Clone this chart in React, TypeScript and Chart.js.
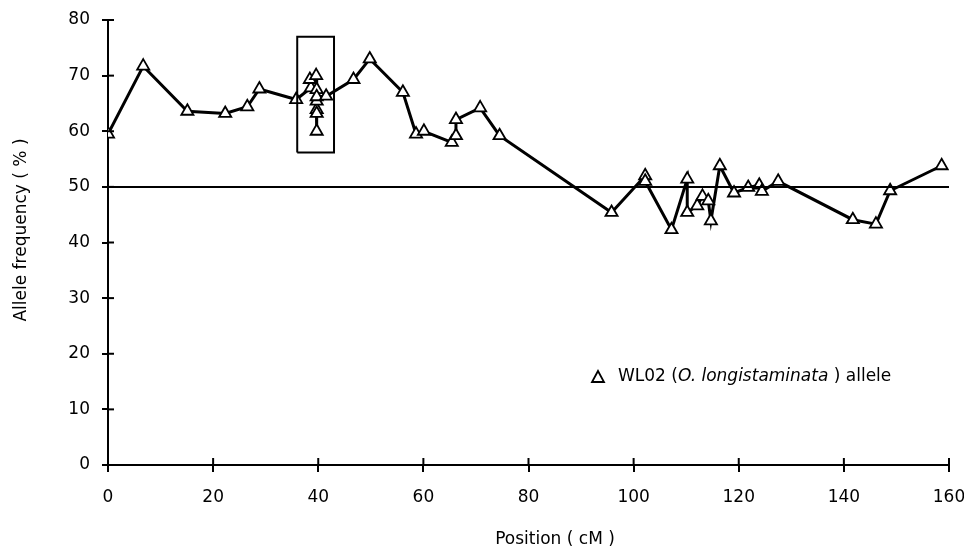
import React, { useEffect, useRef } from "react";
import { Chart, registerables } from "chart.js";

Chart.register(...registerables);

// Marker positions (cM) and allele frequencies (%) in drawing order
const positions = [
  0, 6.7, 15.1, 22.3, 26.5, 28.8, 35.8, 38.6, 38.4, 39.6, 39.7, 39.7, 39.7, 39.7, 39.7, 39.7,
  41.5, 46.7, 49.8, 56.1, 58.6, 60.1, 65.4, 66.2, 66.2, 70.8, 74.5, 95.8, 102.2, 102.2,
  107.2, 110.2, 110.2, 112.1, 113.1, 114.2, 114.7, 116.4, 119.1, 121.8, 123.9, 124.4,
  127.5, 141.7, 146.1, 148.8, 158.6,
];
const frequencies = [
  59.5, 71.7, 63.6, 63.2, 64.4, 67.6, 65.7, 67.8, 69.3, 70.0, 67.5, 63.9, 63.2, 60.0, 65.4, 66.2,
  66.3, 69.3, 73.0, 67.0, 59.5, 60.0, 58.0, 59.2, 62.1, 64.2, 59.2, 45.4, 52.0, 51.0,
  42.3, 51.4, 45.4, 46.6, 48.3, 47.5, 43.9, 53.8, 48.9, 49.9, 50.3, 49.2,
  51.0, 44.1, 43.3, 49.3, 53.8,
];

const xTicks = [0, 20, 40, 60, 80, 100, 120, 140, 160];
const yTicks = [0, 10, 20, 30, 40, 50, 60, 70, 80];
const referenceLevel = 50;
const boxX = [36, 43];
const boxY = [56.2, 77];

const xTitle = "Position ( cM )";
const yTitle = "Allele frequency ( % )";
const legendParts = [
  { text: "WL02 (", italic: false },
  { text: "O. longistaminata", italic: true },
  { text: " ) allele", italic: false },
];

const FONT = "'DejaVu Sans', Verdana, sans-serif";
const FS = 17;

const overlayPlugin = {
  id: "overlay",
  afterDraw(chart: any) {
    const ctx = chart.ctx;
    const { left, bottom } = chart.chartArea;
    const xs = chart.scales.x;
    const ys = chart.scales.y;
    ctx.save();
    ctx.strokeStyle = "#000";
    ctx.lineWidth = 2;
    // inner halves of tick marks
    yTicks.forEach((v) => {
      const py = ys.getPixelForValue(v);
      ctx.beginPath();
      ctx.moveTo(left, py);
      ctx.lineTo(left + 6, py);
      ctx.stroke();
    });
    xTicks.forEach((v) => {
      const px = xs.getPixelForValue(v);
      ctx.beginPath();
      ctx.moveTo(px, bottom);
      ctx.lineTo(px, bottom - 7);
      ctx.stroke();
    });
    // axis titles
    ctx.fillStyle = "#000";
    ctx.font = `${FS}px ${FONT}`;
    ctx.textAlign = "center";
    ctx.textBaseline = "middle";
    ctx.fillText(xTitle, 555, 540);
    ctx.save();
    ctx.translate(22, 230);
    ctx.rotate(-Math.PI / 2);
    ctx.fillText(yTitle, 0, 0);
    ctx.restore();
    // legend
    const lx = 598;
    const ly = 377;
    ctx.lineWidth = 1.8;
    ctx.beginPath();
    ctx.moveTo(lx, ly - 6);
    ctx.lineTo(lx + 6, ly + 5);
    ctx.lineTo(lx - 6, ly + 5);
    ctx.closePath();
    ctx.stroke();
    let tx = lx + 20;
    ctx.textAlign = "left";
    legendParts.forEach((p) => {
      ctx.font = `${p.italic ? "italic " : ""}${FS}px ${FONT}`;
      ctx.fillText(p.text, tx, ly);
      tx += ctx.measureText(p.text).width;
    });
    ctx.restore();
  },
};

export default function App() {
  const ref = useRef<HTMLCanvasElement | null>(null);
  useEffect(() => {
    if (!ref.current) return;
    const points = positions.map((x, i) => ({ x, y: frequencies[i] }));
    const chart = new Chart(ref.current, {
      type: "scatter",
      data: {
        datasets: [
          {
            label: "reference",
            data: [
              { x: xTicks[0], y: referenceLevel },
              { x: xTicks[xTicks.length - 1], y: referenceLevel },
            ],
            showLine: true,
            borderColor: "#000",
            borderWidth: 2,
            pointRadius: 0,
          },
          {
            label: "box",
            data: [
              { x: boxX[0], y: boxY[0] },
              { x: boxX[0], y: boxY[1] },
              { x: boxX[1], y: boxY[1] },
              { x: boxX[1], y: boxY[0] },
              { x: boxX[0], y: boxY[0] },
            ],
            showLine: true,
            borderColor: "#000",
            borderWidth: 2,
            pointRadius: 0,
          },
          {
            label: "WL02",
            data: points,
            showLine: true,
            borderColor: "#000",
            borderWidth: 3,
            pointStyle: "triangle",
            pointRadius: 7,
            pointBorderWidth: 1.8,
            pointBackgroundColor: "#fff",
            pointBorderColor: "#000",
          },
        ],
      },
      options: {
        responsive: false,
        animation: false,
        layout: { padding: { left: 0, right: 15, top: 20, bottom: 0 } },
        plugins: { legend: { display: false }, tooltip: { enabled: false } },
        scales: {
          x: {
            type: "linear",
            min: 0,
            max: 160,
            afterBuildTicks: (s: any) => {
              s.ticks = xTicks.map((v) => ({ value: v }));
            },
            afterFit: (s: any) => {
              s.height = 90;
              s.paddingLeft = 0;
              s.paddingRight = 0;
            },
            border: { color: "#000", width: 2 },
            grid: { drawOnChartArea: false, drawTicks: true, tickLength: 7, color: "#000", lineWidth: 2 },
            ticks: { color: "#000", font: { family: FONT, size: FS }, padding: 15, maxRotation: 0 },
          },
          y: {
            type: "linear",
            min: 0,
            max: 80,
            afterBuildTicks: (s: any) => {
              s.ticks = yTicks.map((v) => ({ value: v }));
            },
            afterFit: (s: any) => {
              s.width = 108;
              s.paddingTop = 0;
              s.paddingBottom = 0;
            },
            border: { color: "#000", width: 2 },
            grid: { drawOnChartArea: false, drawTicks: true, tickLength: 6, color: "#000", lineWidth: 2 },
            ticks: { color: "#000", font: { family: FONT, size: FS }, padding: 12 },
          },
        },
      },
      plugins: [overlayPlugin],
    });
    return () => chart.destroy();
  }, []);
  return (
    <div style={{ position: "absolute", left: 0, top: 0, width: 964, height: 555, background: "#fff", overflow: "hidden" }}>
      <canvas ref={ref} width={964} height={555} />
    </div>
  );
}
